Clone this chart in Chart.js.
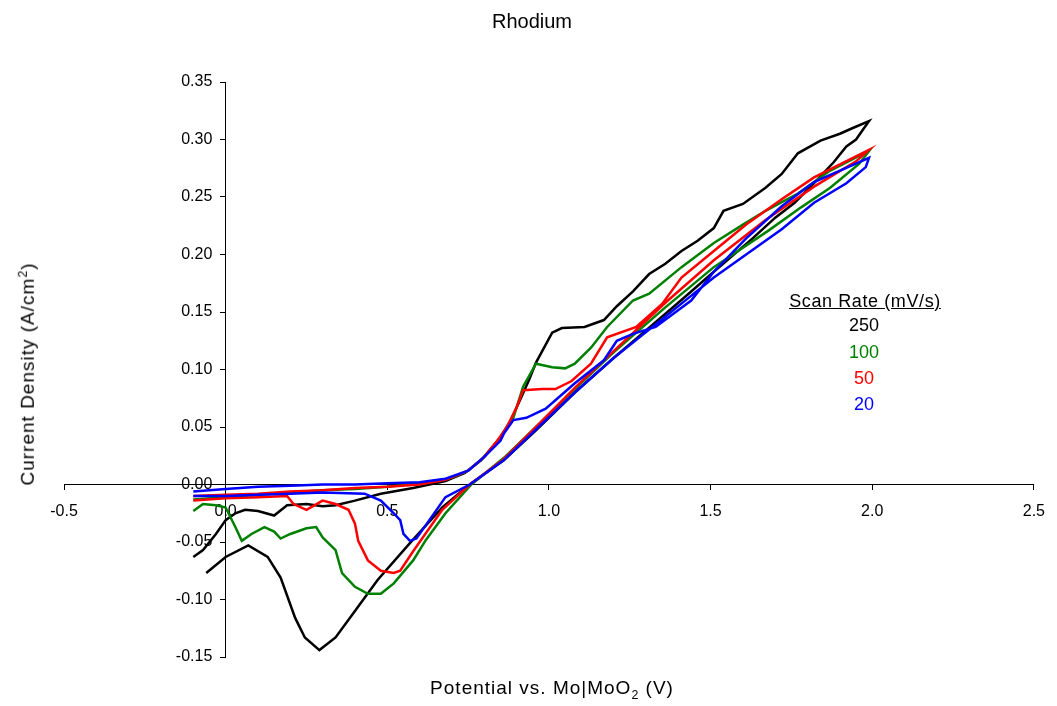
<!DOCTYPE html>
<html>
<head>
<meta charset="utf-8">
<script src="https://cdn.jsdelivr.net/npm/chart.js@4"></script>
<style>
  body { margin: 0; background: #fff; }
  #wrap { position: relative; width: 1057px; height: 706px; font-family: "Liberation Sans", Arial, sans-serif; }
  #cv { position: absolute; left: 0; top: 0; }
  .lbl { position: absolute; color: #000; white-space: nowrap; transform: translate(-50%, -50%); line-height: 1; }
  .lbl sup, .lbl sub { font-size: 65%; }
</style>
</head>
<body>
<div id="wrap">
  <canvas id="cv" width="1057" height="706"></canvas>
  <div class="lbl" style="left:532px; top:21px; font-size:20px;">Rhodium</div>
  <div class="lbl" style="left:552px; top:690px; font-size:19px; letter-spacing:1px;">Potential vs. Mo|MoO<sub>2</sub> (V)</div>
  <div class="lbl" style="left:27px; top:374px; font-size:19px; letter-spacing:1px; transform: translate(-50%, -50%) rotate(-90deg);">Current Density (A/cm<sup>2</sup>)</div>
  <div class="lbl" style="left:865px; top:301px; font-size:18px; letter-spacing:0.6px; text-decoration: underline;">Scan Rate (mV/s)</div>
  <div class="lbl" style="left:864px; top:325px; font-size:18px; color:#000;">250</div>
  <div class="lbl" style="left:864px; top:352px; font-size:18px; color:#008000;">100</div>
  <div class="lbl" style="left:864px; top:378px; font-size:18px; color:#ff0000;">50</div>
  <div class="lbl" style="left:864px; top:404px; font-size:18px; color:#0000ff;">20</div>
</div>
<script>
/* x ticks and y ticks */
var xMin = -0.5, xMax = 2.5, xStep = 0.5;
var yMin = -0.15, yMax = 0.35, yStep = 0.05;

/* 250 mV/s : potential (V) and current density (A/cm2), in scan order */
var v250 = [-0.10,-0.07,-0.03,0.00,0.03,0.06,0.10,0.15,0.19,0.25,0.30,0.34,0.40,0.48,0.58,0.68,0.74,0.79,0.85,0.88,0.91,0.94,0.96,1.01,1.04,1.11,1.17,1.21,1.26,1.31,1.36,1.41,1.46,1.51,1.54,1.60,1.67,1.72,1.77,1.84,1.90,1.94,1.99,
            1.97,1.95,1.92,1.88,1.82,1.76,1.70,1.63,1.51,1.40,1.30,1.20,1.08,0.96,0.86,0.755,0.67,0.57,0.47,0.40,0.34,0.29,0.245,0.215,0.17,0.13,0.07,0.00,-0.06];
var j250 = [-0.063,-0.057,-0.043,-0.031,-0.025,-0.022,-0.023,-0.027,-0.018,-0.017,-0.019,-0.018,-0.014,-0.008,-0.003,0.003,0.010,0.021,0.041,0.055,0.073,0.092,0.106,0.132,0.136,0.137,0.143,0.155,0.168,0.183,0.192,0.203,0.212,0.223,0.238,0.244,0.258,0.270,0.288,0.299,0.305,0.310,0.316,
            0.308,0.300,0.294,0.280,0.262,0.245,0.232,0.214,0.185,0.158,0.134,0.110,0.080,0.047,0.021,0.000,-0.020,-0.051,-0.083,-0.110,-0.133,-0.144,-0.133,-0.116,-0.081,-0.063,-0.053,-0.063,-0.077];

/* 100 mV/s */
var v100 = [-0.10,0.00,0.10,0.20,0.30,0.40,0.50,0.60,0.65,0.70,0.75,0.80,0.85,0.89,0.92,0.96,1.01,1.05,1.08,1.13,1.18,1.26,1.31,1.41,1.51,1.60,1.67,1.77,1.87,1.99,
            1.96,1.87,1.78,1.68,1.51,1.36,1.20,1.08,0.96,0.86,0.76,0.68,0.62,0.58,0.52,0.48,0.44,0.40,0.36,0.34,0.30,0.28,0.25,0.20,0.17,0.15,0.12,0.08,0.05,0.03,0.00,-0.03,-0.07,-0.10];
var j100 = [-0.013,-0.011,-0.009,-0.007,-0.005,-0.004,-0.002,0.001,0.003,0.006,0.012,0.024,0.040,0.058,0.085,0.105,0.102,0.101,0.105,0.119,0.137,0.160,0.166,0.189,0.210,0.226,0.238,0.253,0.273,0.290,
            0.279,0.258,0.241,0.221,0.189,0.154,0.115,0.083,0.050,0.023,0.000,-0.025,-0.048,-0.066,-0.086,-0.095,-0.095,-0.089,-0.077,-0.057,-0.046,-0.037,-0.038,-0.043,-0.047,-0.041,-0.037,-0.043,-0.049,-0.037,-0.020,-0.018,-0.017,-0.023];

/* 50 mV/s */
var v50 = [-0.10,0.00,0.10,0.20,0.30,0.40,0.50,0.60,0.68,0.75,0.80,0.84,0.87,0.90,0.92,0.98,1.02,1.07,1.13,1.18,1.27,1.35,1.41,1.51,1.61,1.72,1.82,1.99,
           1.95,1.82,1.67,1.51,1.36,1.20,1.08,0.96,0.86,0.755,0.67,0.58,0.54,0.52,0.48,0.44,0.41,0.40,0.38,0.34,0.30,0.25,0.21,0.19,0.10,0.00,-0.10];
var j50 = [-0.010,-0.009,-0.008,-0.006,-0.005,-0.003,-0.002,0.000,0.004,0.012,0.024,0.038,0.050,0.067,0.082,0.083,0.083,0.090,0.105,0.128,0.137,0.157,0.180,0.203,0.226,0.248,0.267,0.291,
           0.281,0.259,0.230,0.195,0.158,0.116,0.084,0.050,0.022,0.000,-0.022,-0.058,-0.075,-0.077,-0.075,-0.066,-0.049,-0.034,-0.022,-0.017,-0.014,-0.022,-0.017,-0.010,-0.011,-0.012,-0.014];

/* 20 mV/s */
var v20 = [-0.10,0.00,0.10,0.20,0.30,0.40,0.50,0.60,0.68,0.75,0.80,0.85,0.86,0.89,0.93,0.99,1.08,1.17,1.21,1.26,1.33,1.44,1.51,1.61,1.72,1.82,1.99,
           1.98,1.92,1.82,1.72,1.61,1.51,1.36,1.20,1.08,0.96,0.86,0.755,0.68,0.63,0.59,0.57,0.55,0.54,0.52,0.48,0.43,0.30,0.20,0.10,0.00,-0.10];
var j20 = [-0.006,-0.004,-0.002,-0.001,0.000,0.000,0.001,0.002,0.005,0.012,0.024,0.038,0.044,0.056,0.058,0.066,0.088,0.108,0.125,0.131,0.137,0.160,0.185,0.214,0.242,0.263,0.284,
           0.276,0.262,0.245,0.222,0.200,0.180,0.146,0.110,0.080,0.048,0.021,0.000,-0.011,-0.031,-0.047,-0.049,-0.043,-0.031,-0.025,-0.014,-0.008,-0.007,-0.008,-0.009,-0.010,-0.010];

var fontFamily = '"Liberation Sans", Arial, sans-serif';

function toPoints(xs, ys) {
    var pts = [];
    for (var i = 0; i < xs.length; i++) {
        pts.push({x: xs[i], y: ys[i]});
    }
    return pts;
}

function makeSet(label, xs, ys, color, order) {
    return {
        label: label,
        data: toPoints(xs, ys),
        showLine: true,
        borderColor: color,
        backgroundColor: color,
        borderWidth: 2.5,
        pointRadius: 0,
        tension: 0,
        order: order
    };
}

var ctx = document.getElementById("cv");
var chart = new Chart(ctx, {
    type: 'scatter',
    data: {
        datasets: [
            makeSet('250', v250, j250, '#000000', 3),
            makeSet('100', v100, j100, '#008000', 2),
            makeSet('50', v50, j50, '#ff0000', 1),
            makeSet('20', v20, j20, '#0000ff', 0)
        ]
    },
    options: {
        responsive: false,
        animation: false,
        devicePixelRatio: 1,
        layout: { padding: { left: 64, right: 15, top: 82, bottom: 49 } },
        plugins: {
            legend: { display: false },
            tooltip: { enabled: false },
            title: { display: false }
        },
        scales: {
            x: {
                type: 'linear',
                min: xMin, max: xMax,
                position: { y: 0 },
                afterFit: function (s) { s.height = 0; },
                border: { display: true, color: '#000', width: 1 },
                grid: { drawOnChartArea: false, drawTicks: true, tickLength: 5, color: '#000' },
                ticks: {
                    stepSize: xStep, padding: 12, color: '#000', maxRotation: 0, autoSkip: false,
                    font: { family: fontFamily, size: 16 },
                    callback: function (v) { return Number(v).toFixed(1); }
                }
            },
            y: {
                type: 'linear',
                min: yMin, max: yMax,
                position: { x: 0 },
                afterFit: function (s) { s.width = 0; },
                border: { display: true, color: '#000', width: 1 },
                grid: { drawOnChartArea: false, drawTicks: true, tickLength: 5, color: '#000' },
                ticks: {
                    stepSize: yStep, color: '#000', autoSkip: false,
                    font: { family: fontFamily, size: 16 },
                    /* labels of an axis placed at x = 0 sit flush on the line; trailing gap keeps them clear of the ticks */
                    callback: function (v) { return Number(v).toFixed(2) + '   '; }
                }
            }
        }
    }
});
</script>
</body>
</html>
